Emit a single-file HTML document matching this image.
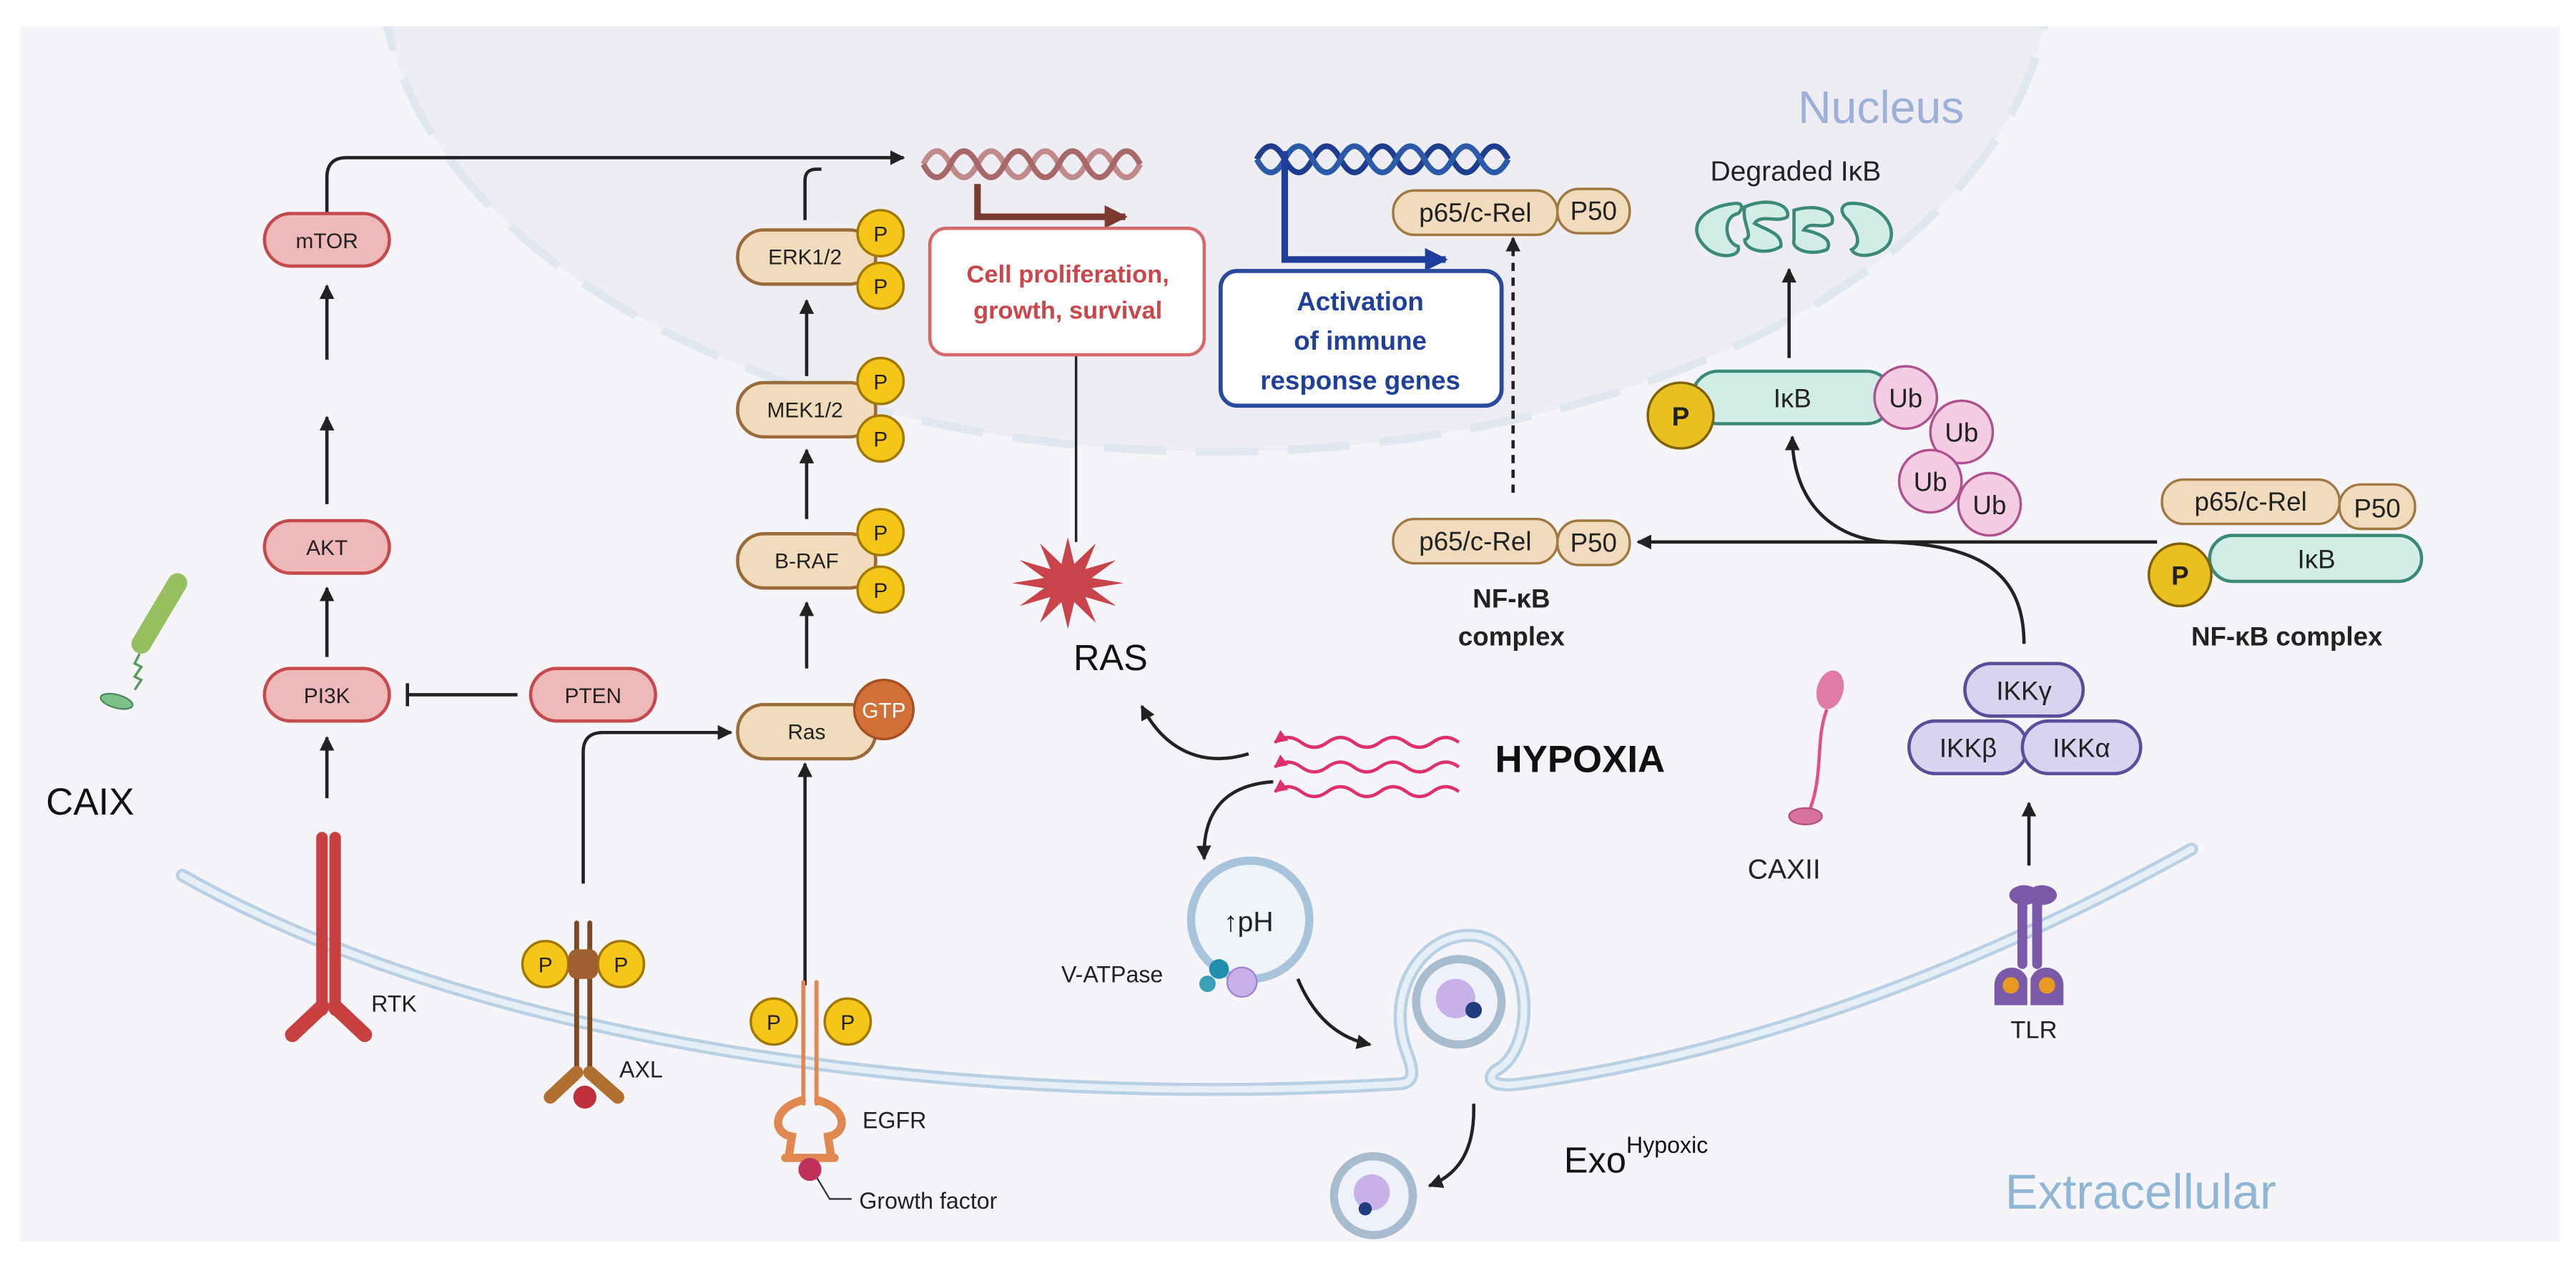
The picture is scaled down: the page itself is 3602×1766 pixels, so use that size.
<!DOCTYPE html>
<html><head><meta charset="utf-8"><style>
html,body{margin:0;padding:0;background:#fff;}
svg{display:block;}
text{font-family:"Liberation Sans",sans-serif;}
</style></head><body>
<svg width="3602" height="1766" viewBox="0 0 1568 769" preserveAspectRatio="none" xmlns="http://www.w3.org/2000/svg">
<defs>
<marker id="ah" viewBox="0 0 10 10" refX="9" refY="5" markerWidth="4.5" markerHeight="4.5" orient="auto"><path d="M0,0 L10,5 L0,10 z" fill="#222"/></marker>
<marker id="ahb" viewBox="0 0 10 10" refX="9" refY="5" markerWidth="3.5" markerHeight="3.5" orient="auto"><path d="M0,0 L10,5 L0,10 z" fill="#1f3d9a"/></marker>
<marker id="ahr" viewBox="0 0 10 10" refX="9" refY="5" markerWidth="3.5" markerHeight="3.5" orient="auto"><path d="M0,0 L10,5 L0,10 z" fill="#7a3a30"/></marker>
<marker id="ahp" viewBox="0 0 10 10" refX="1" refY="5" markerWidth="4" markerHeight="4" orient="auto"><path d="M10,0 L0,5 L10,10 z" fill="#e0306c"/></marker>
</defs>
<rect x="0" y="0" width="1568" height="769" fill="#fff"/>
<rect x="12" y="16" width="1546" height="740" fill="#f5f4f9"/>
<clipPath id="cp"><rect x="12" y="16" width="1546" height="740"/></clipPath>
<g clip-path="url(#cp)">
<ellipse cx="740" cy="-20" rx="508" ry="295" fill="#ededf3"/>
<ellipse cx="740" cy="-20" rx="508" ry="295" fill="none" stroke="#dfe7f1" stroke-width="5" stroke-dasharray="38 18"/>
</g>
<g fill="none" stroke-linecap="round">
<path d="M111,533 C300,640 600,675 850,660 C860,660 862,655 856,640 C842,600 870,565 900,570 C935,578 935,640 910,652 C904,658 910,662 925,660 C1080,640 1220,580 1334,517" stroke="#b8d0e4" stroke-width="8"/>
<path d="M111,533 C300,640 600,675 850,660 C860,660 862,655 856,640 C842,600 870,565 900,570 C935,578 935,640 910,652 C904,658 910,662 925,660 C1080,640 1220,580 1334,517" stroke="#e6eef6" stroke-width="4"/>
</g>
<text x="1145" y="75" font-size="28" fill="#9db0d8" text-anchor="middle">Nucleus</text>
<text x="1303" y="736" font-size="30" fill="#8fb6d4" text-anchor="middle">Extracellular</text>
<text x="28" y="496" font-size="23" fill="#111">CAIX</text>
<text x="676" y="408" font-size="22" fill="#111" text-anchor="middle">RAS</text>
<text x="910" y="470" font-size="23" font-weight="bold" fill="#111">HYPOXIA</text>
<text x="952" y="714" font-size="22" fill="#111">Exo<tspan font-size="14" dy="-12">Hypoxic</tspan></text>
<g stroke="#222" stroke-width="2" fill="none">
<path d="M199,130 L199,108 Q199,96 211,96 L550,96" marker-end="url(#ah)"/>
<path d="M490,134 L490,110 Q490,103 497,103 L500,103" />
<line x1="199" y1="219" x2="199" y2="174" marker-end="url(#ah)"/>
<line x1="199" y1="307" x2="199" y2="254" marker-end="url(#ah)"/>
<line x1="199" y1="400" x2="199" y2="358" marker-end="url(#ah)"/>
<line x1="199" y1="486" x2="199" y2="449" marker-end="url(#ah)"/>
<line x1="315" y1="423" x2="248" y2="423"/>
<line x1="248" y1="416" x2="248" y2="430"/>
<path d="M355,538 L355,458 Q355,446 367,446 L445,446" marker-end="url(#ah)"/>
<line x1="490" y1="600" x2="490" y2="465" marker-end="url(#ah)"/>
<line x1="491" y1="407" x2="491" y2="367" marker-end="url(#ah)"/>
<line x1="491" y1="316" x2="491" y2="274" marker-end="url(#ah)"/>
<line x1="491" y1="229" x2="491" y2="183" marker-end="url(#ah)"/>
<line x1="655" y1="330" x2="655" y2="206" stroke-width="1.5" marker-end="url(#ah)"/>
<path d="M760,459 C730,468 708,455 695,430" marker-end="url(#ah)"/>
<path d="M775,476 C745,478 732,495 733,523" marker-end="url(#ah)"/>
<path d="M790,596 C800,620 815,632 834,636" marker-end="url(#ah)"/>
<path d="M897,672 C898,700 888,715 870,722" marker-end="url(#ah)"/>
<line x1="1313" y1="330" x2="997" y2="330" marker-end="url(#ah)"/>
<line x1="921" y1="300" x2="921" y2="145" stroke-dasharray="5 4" marker-end="url(#ah)"/>
<path d="M1232,392 C1232,345 1200,332 1150,330 C1110,328 1091,300 1091,266" marker-end="url(#ah)"/>
<line x1="1089" y1="218" x2="1089" y2="164" marker-end="url(#ah)"/>
<line x1="1235" y1="527" x2="1235" y2="489" marker-end="url(#ah)"/>
</g>
<g font-size="13" text-anchor="middle" fill="#222">
<rect x="161" y="130" width="76" height="32" rx="16" fill="#f0b9b9" stroke="#c44a4e" stroke-width="2"/><text x="199" y="151">mTOR</text>
<rect x="161" y="317" width="76" height="32" rx="16" fill="#f0b9b9" stroke="#c44a4e" stroke-width="2"/><text x="199" y="338">AKT</text>
<rect x="161" y="407" width="76" height="32" rx="16" fill="#f0b9b9" stroke="#c44a4e" stroke-width="2"/><text x="199" y="428">PI3K</text>
<rect x="323" y="407" width="76" height="32" rx="16" fill="#f0b9b9" stroke="#c44a4e" stroke-width="2"/><text x="361" y="428">PTEN</text>
</g>
<g font-size="13" text-anchor="middle" fill="#222">
<rect x="449" y="140" width="84" height="33" rx="16" fill="#f0dcbc" stroke="#9a6a38" stroke-width="2"/><text x="490" y="161">ERK1/2</text>
<rect x="449" y="233" width="84" height="33" rx="16" fill="#f0dcbc" stroke="#9a6a38" stroke-width="2"/><text x="490" y="254">MEK1/2</text>
<rect x="449" y="325" width="84" height="33" rx="16" fill="#f0dcbc" stroke="#9a6a38" stroke-width="2"/><text x="491" y="346">B-RAF</text>
<rect x="449" y="429" width="84" height="33" rx="16" fill="#f0dcbc" stroke="#9a6a38" stroke-width="2"/><text x="491" y="450">Ras</text>
<circle cx="538" cy="432" r="18" fill="#d2703a" stroke="#a84e20" stroke-width="1.5"/><text x="538" y="437" fill="#fff">GTP</text>
<g fill="#f5c518" stroke="#a07800" stroke-width="1.5">
<circle cx="536" cy="142" r="14"/><circle cx="536" cy="174" r="14"/>
<circle cx="536" cy="232" r="14"/><circle cx="536" cy="267" r="14"/>
<circle cx="536" cy="324" r="14"/><circle cx="536" cy="359" r="14"/>
<circle cx="332" cy="587" r="14"/><circle cx="378" cy="587" r="14"/>
<circle cx="471" cy="622" r="14"/><circle cx="516" cy="622" r="14"/>
</g>
<text x="536" y="147">P</text><text x="536" y="179">P</text><text x="536" y="237">P</text><text x="536" y="272">P</text>
<text x="536" y="329">P</text><text x="536" y="364">P</text><text x="332" y="592">P</text><text x="378" y="592">P</text>
<text x="471" y="627">P</text><text x="516" y="627">P</text>
</g>
<g stroke-linecap="round" fill="none">
<line x1="196" y1="510" x2="196" y2="615" stroke="#c84040" stroke-width="7"/>
<line x1="204" y1="510" x2="204" y2="615" stroke="#c84040" stroke-width="7"/>
<path d="M196,613 L178,630" stroke="#c84040" stroke-width="9"/>
<path d="M204,613 L222,630" stroke="#c84040" stroke-width="9"/>
<line x1="351" y1="562" x2="351" y2="655" stroke="#7a4a20" stroke-width="3"/>
<line x1="359" y1="562" x2="359" y2="655" stroke="#7a4a20" stroke-width="3"/>
<rect x="346" y="578" width="18" height="18" rx="5" fill="#a06030" stroke="none"/>
<path d="M351,653 L335,668" stroke="#b07030" stroke-width="8"/>
<path d="M359,653 L376,668" stroke="#b07030" stroke-width="8"/>
<line x1="489" y1="598" x2="489" y2="672" stroke="#e08850" stroke-width="2.5"/>
<line x1="497" y1="598" x2="497" y2="672" stroke="#e08850" stroke-width="2.5"/>
<path d="M488,670 C470,675 470,690 482,692 L480,705 M498,670 C516,675 516,690 504,692 L506,705 M478,705 L508,705" stroke="#e08850" stroke-width="5"/>
<path d="M496,715 L505,730 L518,730" stroke="#333" stroke-width="1"/>
</g>
<circle cx="356" cy="668" r="7" fill="#c0303a"/>
<circle cx="493" cy="712" r="7" fill="#c0305a"/>
<g font-size="14" fill="#222">
<text x="226" y="616">RTK</text><text x="377" y="656">AXL</text><text x="525" y="687">EGFR</text><text x="523" y="736">Growth factor</text>
<text x="646" y="598">V-ATPase</text><text x="1238" y="632" text-anchor="middle" font-size="15">TLR</text><text x="1086" y="535" font-size="17" text-anchor="middle">CAXII</text>
</g>
<line x1="108" y1="355" x2="86" y2="392" stroke="#96c060" stroke-width="12" stroke-linecap="round"/>
<path d="M85,398 l-3,6 l4,2 l-4,6 l4,2 l-4,6" stroke="#5a9a5a" stroke-width="1.5" fill="none"/>
<ellipse cx="71" cy="427" rx="10" ry="4" fill="#7cc08a" stroke="#4a8a5a" transform="rotate(15 71 427)"/>
<g fill="none" stroke-width="3.5">
<path d="M562,100 q8.25,-16 16.5,0 t16.5,0 t16.5,0 t16.5,0 t16.5,0 t16.5,0 t16.5,0 t16.5,0" stroke="#c08a8a"/>
<path d="M562,100 q8.25,16 16.5,0 t16.5,0 t16.5,0 t16.5,0 t16.5,0 t16.5,0 t16.5,0 t16.5,0" stroke="#a86868"/>
<path d="M765,97 q8.5,-16 17,0 t17,0 t17,0 t17,0 t17,0 t17,0 t17,0 t17,0 t17,0" stroke="#1f3d8f"/>
<path d="M765,97 q8.5,16 17,0 t17,0 t17,0 t17,0 t17,0 t17,0 t17,0 t17,0 t17,0" stroke="#2a5aa8"/>
</g>
<path d="M595,112 L595,132 L685,132" stroke="#7a3a30" stroke-width="4" fill="none" marker-end="url(#ahr)"/>
<path d="M782,92 L782,158 L880,158" stroke="#1f3d9a" stroke-width="4" fill="none" marker-end="url(#ahb)"/>
<rect x="566" y="139" width="167" height="77" rx="10" fill="#fff" stroke="#d46a6e" stroke-width="2"/>
<text x="650" y="172" font-size="15" font-weight="bold" fill="#c9464b" text-anchor="middle">Cell proliferation,</text>
<text x="650" y="194" font-size="15" font-weight="bold" fill="#c9464b" text-anchor="middle">growth, survival</text>
<rect x="743" y="165" width="171" height="82" rx="10" fill="#fff" stroke="#2a4aa0" stroke-width="2.5"/>
<text x="828" y="189" font-size="16" font-weight="bold" fill="#1e3f9a" text-anchor="middle">Activation</text>
<text x="828" y="213" font-size="16" font-weight="bold" fill="#1e3f9a" text-anchor="middle">of immune</text>
<text x="828" y="237" font-size="16" font-weight="bold" fill="#1e3f9a" text-anchor="middle">response genes</text>
<polygon points="684,355 664.5,358.1 679.4,369 660.6,363.5 667,379.2 653.9,366.6 650,383 646.1,366.6 633,379.2 639.4,363.5 620.6,369 635.5,358.1 616,355 635.5,351.9 620.6,341 639.4,346.5 633,330.8 646.1,343.4 650,327 653.9,343.4 667,330.8 660.6,346.5 679.4,341 664.5,351.9" fill="#c8444a"/>
<g fill="none" stroke="#e0306c" stroke-width="2">
<path d="M776,452 q8,-6 16,0 t16,0 t16,0 t16,0 t16,0 t16,0 t16,0" marker-start="url(#ahp)"/>
<path d="M776,467 q8,-6 16,0 t16,0 t16,0 t16,0 t16,0 t16,0 t16,0" marker-start="url(#ahp)"/>
<path d="M776,482 q8,-6 16,0 t16,0 t16,0 t16,0 t16,0 t16,0 t16,0" marker-start="url(#ahp)"/>
</g>
<circle cx="761" cy="560" r="36" fill="#eef4f8" stroke="#a8c4dc" stroke-width="5"/>
<text x="760" y="567" font-size="17" fill="#222" text-anchor="middle">↑pH</text>
<circle cx="742" cy="590" r="6" fill="#1f8fb0"/><circle cx="735" cy="599" r="5" fill="#3aa0b8"/>
<circle cx="756" cy="598" r="9" fill="#c8b0e8" stroke="#a080d0"/>
<circle cx="888" cy="610" r="26" fill="#eef2f8" stroke="#a8bcd0" stroke-width="5"/>
<circle cx="886" cy="608" r="12" fill="#c8b0e8"/><circle cx="897" cy="615" r="5" fill="#1f3d7f"/>
<circle cx="836" cy="728" r="24" fill="#eef2f8" stroke="#a8bcd0" stroke-width="5"/>
<circle cx="835" cy="726" r="11" fill="#c8b0e8"/><circle cx="831" cy="736" r="4" fill="#1f3d7f"/>
<g font-size="16" fill="#222" text-anchor="middle">
<rect x="848" y="116" width="100" height="27" rx="13" fill="#f0dcbc" stroke="#a07840" stroke-width="1.5"/><text x="898" y="135">p65/c-Rel</text>
<rect x="948" y="115" width="44" height="27" rx="13" fill="#f0dcbc" stroke="#a07840" stroke-width="1.5"/><text x="970" y="134">P50</text>
<rect x="848" y="316" width="100" height="27" rx="13" fill="#f0dcbc" stroke="#a07840" stroke-width="1.5"/><text x="898" y="335">p65/c-Rel</text>
<rect x="948" y="317" width="44" height="27" rx="13" fill="#f0dcbc" stroke="#a07840" stroke-width="1.5"/><text x="970" y="336">P50</text>
<text x="920" y="370" font-weight="bold">NF-κB</text><text x="920" y="393" font-weight="bold">complex</text>
<rect x="1345" y="326" width="129" height="28" rx="14" fill="#d2ede6" stroke="#3b8a78" stroke-width="2"/><text x="1410" y="346">IκB</text>
<rect x="1316" y="292" width="108" height="27" rx="13" fill="#f0dcbc" stroke="#a07840" stroke-width="1.5"/><text x="1370" y="311">p65/c-Rel</text>
<rect x="1424" y="295" width="46" height="27" rx="13" fill="#f0dcbc" stroke="#a07840" stroke-width="1.5"/><text x="1447" y="315">P50</text>
<circle cx="1327" cy="350" r="19" fill="#e8c020" stroke="#806000" stroke-width="1.5"/><text x="1327" y="356" font-weight="bold">P</text>
<text x="1392" y="393" font-weight="bold">NF-κB complex</text>
<rect x="1030" y="226" width="122" height="32" rx="16" fill="#d2ede6" stroke="#3b8a78" stroke-width="2"/><text x="1091" y="248">IκB</text>
<circle cx="1023" cy="253" r="20" fill="#e8c020" stroke="#806000" stroke-width="1.5"/><text x="1023" y="259" font-weight="bold">P</text>
<g fill="#f5cde3" stroke="#b05090" stroke-width="1.5">
<circle cx="1160" cy="242" r="19"/><circle cx="1194" cy="263" r="19"/><circle cx="1175" cy="293" r="19"/><circle cx="1211" cy="307" r="19"/>
</g>
<text x="1160" y="248">Ub</text><text x="1194" y="269">Ub</text><text x="1175" y="299">Ub</text><text x="1211" y="313">Ub</text>
<text x="1093" y="110" font-size="17">Degraded IκB</text>
<rect x="1196" y="404" width="72" height="32" rx="16" fill="#d8d4ef" stroke="#5a4e9a" stroke-width="2"/><text x="1232" y="426">IKKγ</text>
<rect x="1162" y="439" width="72" height="32" rx="16" fill="#d8d4ef" stroke="#5a4e9a" stroke-width="2"/><text x="1198" y="461">IKKβ</text>
<rect x="1231" y="439" width="72" height="32" rx="16" fill="#d8d4ef" stroke="#5a4e9a" stroke-width="2"/><text x="1267" y="461">IKKα</text>
</g>
<g fill="#d2ede6" stroke="#3b8a78" stroke-width="2">
<path d="M1055,124 C1035,126 1025,140 1040,152 C1048,158 1060,156 1058,150 C1050,148 1048,132 1058,130 C1062,126 1060,123 1055,124z"/>
<path d="M1062,126 C1075,120 1090,124 1088,132 C1082,136 1072,130 1068,136 C1075,140 1085,142 1084,150 C1075,156 1062,152 1062,146 C1068,144 1060,136 1062,126z"/>
<path d="M1092,128 C1105,124 1118,128 1115,136 C1108,140 1102,134 1098,140 C1108,142 1116,146 1112,152 C1102,156 1090,152 1092,146z"/>
<path d="M1125,124 C1140,122 1156,135 1150,148 C1145,156 1130,158 1127,152 C1135,148 1128,138 1125,134 C1120,130 1120,125 1125,124z"/>
</g>
<ellipse cx="1114" cy="420" rx="8" ry="12" fill="#e07aa8" transform="rotate(15 1114 420)"/>
<path d="M1112,432 C1105,450 1110,470 1102,492" stroke="#e0508a" stroke-width="2" fill="none"/>
<ellipse cx="1099" cy="497" rx="10" ry="5" fill="#d870a0" stroke="#b05080"/>
<g fill="#7a5aa8">
<rect x="1228" y="545" width="6" height="45" rx="3"/><rect x="1237" y="545" width="6" height="45" rx="3"/>
<ellipse cx="1232" cy="545" rx="9" ry="6"/><ellipse cx="1243" cy="545" rx="9" ry="6"/>
<path d="M1214,600 C1214,588 1230,585 1234,596 L1234,612 L1214,612z"/>
<path d="M1256,600 C1256,588 1240,585 1236,596 L1236,612 L1256,612z"/>
</g>
<circle cx="1224" cy="600" r="5" fill="#e89a20"/><circle cx="1246" cy="600" r="5" fill="#e89a20"/>
</svg>
</body></html>
